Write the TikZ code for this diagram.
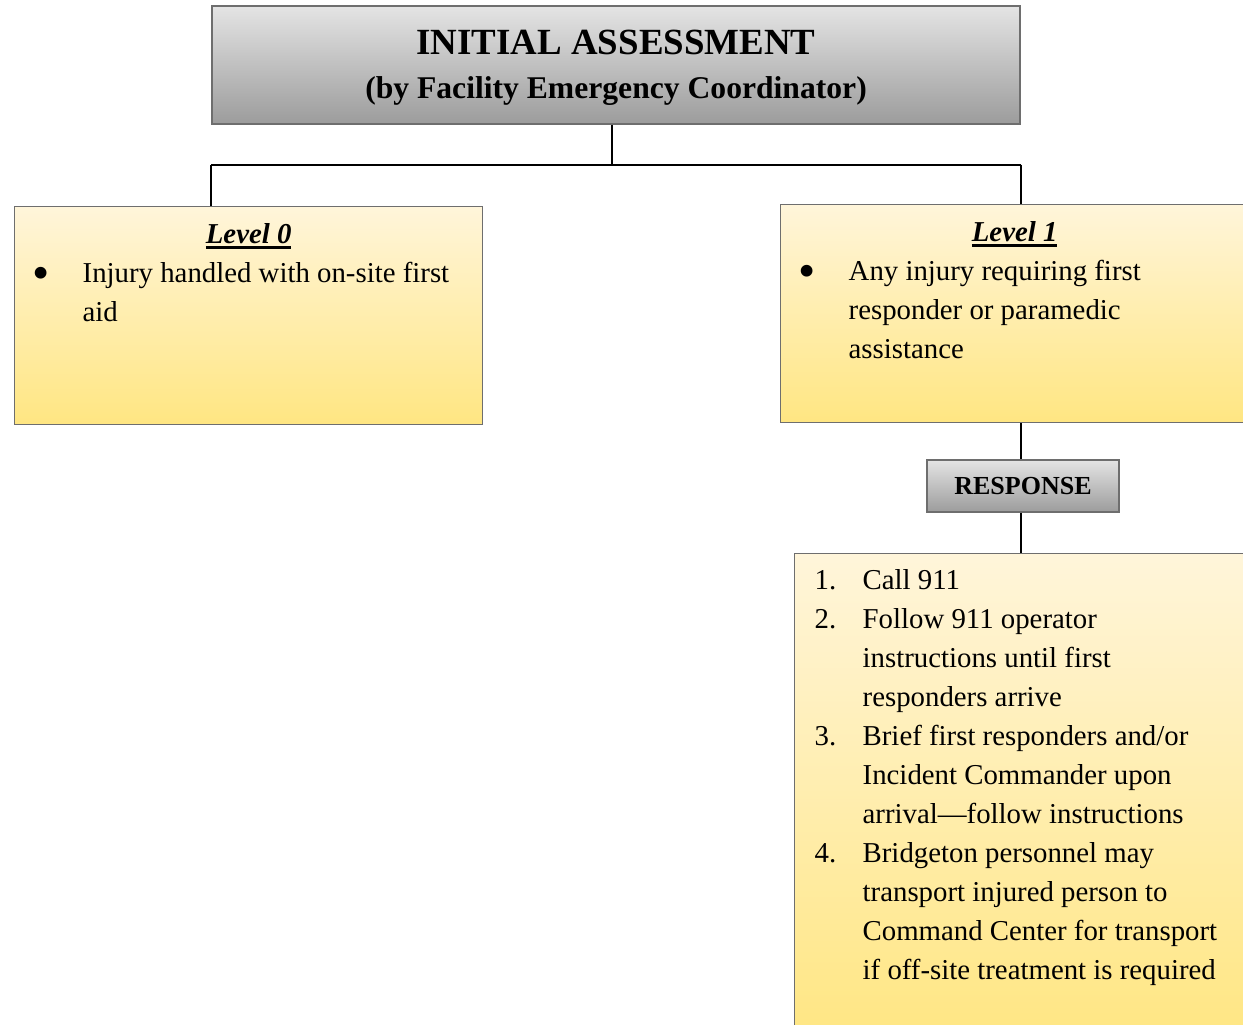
\documentclass[tikz,border=0pt]{standalone}
\usepackage{fontspec}
\setmainfont{Liberation Serif}
\usetikzlibrary{positioning}
\definecolor{greytop}{HTML}{E4E4E4}
\definecolor{greybot}{HTML}{9C9C9C}
\definecolor{yeltop}{HTML}{FFF5DA}
\definecolor{yelbot}{HTML}{FFE682}
\definecolor{boxedge}{HTML}{6E6E6E}
\tikzset
{
    headbox/.style  = {rectangle, draw=boxedge, line width=0.8pt, top color=greytop, bottom color=greybot, align=center, inner sep=0pt},
    levelbox/.style = {rectangle, draw=boxedge, line width=0.8pt, top color=yeltop, bottom color=yelbot, inner sep=0pt, anchor=north west},
    link/.style     = {line width=1.1pt, black}
}
\newsavebox{\headsave}
\newcommand{\thickul}[1]{\sbox{\headsave}{#1}\rlap{\rule[-0.106cm]{\wd\headsave}{0.052cm}}\usebox{\headsave}}
\newcommand{\bigdot}{\raisebox{-0.13cm}{\fontsize{28pt}{28pt}\selectfont\textbullet}}
\newcommand{\bodyfont}{\fontsize{16.4pt}{22.2pt}\selectfont\raggedright}
\newcommand{\lvlhead}[1]{{\centering\rule{0pt}{0.74cm}\bfseries\itshape\thickul{#1}\par}}
\newcommand{\bulitem}[1]{\par\hangindent=1.36cm\hangafter=1\noindent\makebox[1.36cm][l]{\hspace{0.36cm}\bigdot}#1\par}
\newcommand{\numitem}[2]{\par\hangindent=1.36cm\hangafter=1\noindent\makebox[1.36cm][l]{\hspace{0.4cm}#1}#2\par}

\begin{document}
\begin{tikzpicture}[x=0.02cm, y=-0.02cm]
\useasboundingbox (0,0) rectangle (1243,1024);

% top box
\node[headbox, minimum width=16.16cm, minimum height=2.36cm,
      font=\fontsize{21pt}{25pt}\selectfont\bfseries] (assess) at (616,65)
  {\rule{0pt}{0.6cm}INITIAL ASSESSMENT\\{\fontsize{18pt}{25pt}\selectfont(by Facility Emergency Coordinator)}};

% the two levels
\node[levelbox] (lvl0) at (14,206) {\parbox[c][4.36cm][t]{9.36cm}{\bodyfont
  \lvlhead{Level 0}
  \bulitem{Injury handled with on-site first\newline aid}}};
\node[levelbox] (lvl1) at (780,204) {\parbox[c][4.36cm][t]{9.36cm}{\bodyfont
  \lvlhead{Level 1}
  \bulitem{Any injury requiring first\newline responder or paramedic\newline assistance}}};

% response
\node[headbox, minimum width=3.84cm, minimum height=1.04cm,
      font=\fontsize{14.8pt}{17pt}\selectfont\bfseries] (resp) at (1023,486) {RESPONSE};
\node[levelbox] (steps) at (794,553) {\parbox[c][9.8cm][t]{9.36cm}{\bodyfont
  \numitem{1.}{\rule{0pt}{0.72cm}Call 911}
  \numitem{2.}{Follow 911 operator\newline instructions until first\newline responders arrive}
  \numitem{3.}{Brief first responders and/or\newline Incident Commander upon\newline arrival---follow instructions}
  \numitem{4.}{Bridgeton personnel may\newline transport injured person to\newline Command Center for transport\newline if off-site treatment is required}}};

% connectors
\draw[link] (assess.south) ++(-4,0) -- ++(0,40) coordinate (bus);
\draw[link] (bus -| assess.south west) -- (bus -| assess.south east);
\draw[link] (bus -| assess.south west) -- (lvl0.north -| assess.south west);
\draw[link] (bus -| assess.south east) -- (lvl1.north -| assess.south east);
\draw[link] (lvl1.south -| assess.south east) -- (resp.north -| assess.south east);
\draw[link] (resp.south -| assess.south east) -- (steps.north -| assess.south east);
\end{tikzpicture}
\end{document}
